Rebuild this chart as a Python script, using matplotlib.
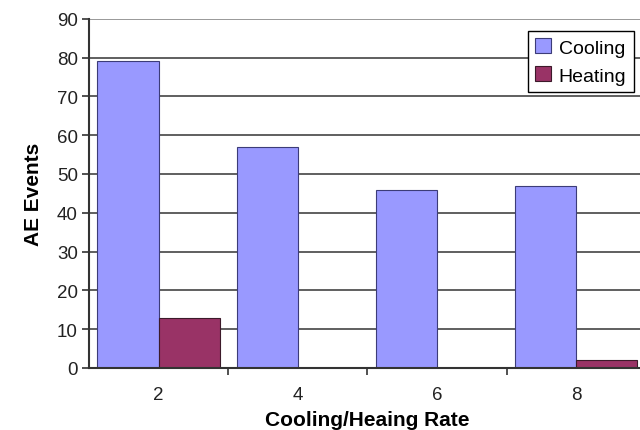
import numpy as np
import matplotlib.pyplot as plt

# AE event counts per cooling/heating rate
rates = ["2", "4", "6", "8"]
cooling = [79, 57, 46, 47]
heating = [13, 0, 0, 2]

plt.rcParams["font.family"] = ["Liberation Sans", "DejaVu Sans"]

fig = plt.figure(figsize=(6.4, 4.31), dpi=100)
ax = fig.add_axes([0.139, 0.144, 0.87, 0.81])

x = np.arange(len(rates))
width = 0.44
ax.bar(x - width / 2, cooling, width, color="#9999FF", edgecolor="#3c3c78",
       linewidth=0.8, label="Cooling", zorder=3)
ax.bar(x + width / 2, heating, width, color="#993366", edgecolor="#3c1a2a",
       linewidth=0.8, label="Heating", zorder=3)

ax.set_xlim(-0.5, 3.5)
ax.set_ylim(0, 90)
ax.set_yticks(range(0, 91, 10))
ax.yaxis.grid(True, color="#444444", linewidth=1.2, zorder=0)
ax.set_axisbelow(True)
# topmost gridline is drawn lighter
ax.get_ygridlines()[-1].set_color("#888888")

# category labels at the centres, tick marks between groups
ax.set_xticks(x)
ax.set_xticklabels(rates)
ax.set_xticks(x[:-1] + 0.5, minor=True)
ax.tick_params(axis="x", which="major", length=0, pad=13, labelsize=13.5,
               labelcolor="#222222")
ax.tick_params(axis="x", which="minor", length=5, width=1.2, color="#333333")
ax.tick_params(axis="y", length=5, width=1.2, color="#333333", labelsize=13.5,
               labelcolor="#222222", pad=3)

for side in ["top", "right"]:
    ax.spines[side].set_visible(False)
for side in ["left", "bottom"]:
    ax.spines[side].set_color("#333333")
    ax.spines[side].set_linewidth(1.5)
ax.spines["bottom"].set_zorder(4)

ax.set_ylabel("AE Events", fontsize=15, fontweight="bold", labelpad=10)
ax.set_xlabel("Cooling/Heaing Rate", fontsize=15, fontweight="bold", labelpad=5)

leg = ax.legend(loc="upper right", bbox_to_anchor=(0.979, 0.966),
                borderaxespad=0, fontsize=14,
                frameon=True, fancybox=False, edgecolor="black",
                handlelength=0.8, handleheight=0.8, handletextpad=0.4,
                borderpad=0.4, labelspacing=0.5, framealpha=1)
leg.get_frame().set_linewidth(1.0)

fig.savefig("out.png", dpi=100)
